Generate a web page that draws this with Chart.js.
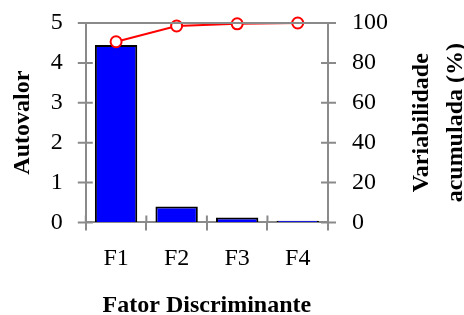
<!DOCTYPE html>
<html>
<head>
<meta charset="utf-8">
<script src="https://cdn.jsdelivr.net/npm/chart.js@4/dist/chart.umd.min.js"></script>
<style>
  html, body { margin: 0; padding: 0; background: #fff; }
  #wrap { width: 464px; height: 315px; }
</style>
</head>
<body>
<div id="wrap"><canvas id="chart"></canvas></div>
<script>
// values
const factors = ['F1', 'F2', 'F3', 'F4'];
const eigenvalues = [4.45, 0.40, 0.12, 0.04];
const cumulativeVar = [90.6, 98.5, 99.6, 100];

const axisGray = '#8a8a8a';
const serif = "'Liberation Serif', 'Times New Roman', serif";

// draws the top frame line, the crossing tick marks and the right title
const framePlugin = {
    id: 'frame',
    afterDatasetsDraw(chart) {
        const ctx = chart.ctx;
        const a = chart.chartArea;
        const tin = 7, tout = 8;
        ctx.save();
        ctx.strokeStyle = axisGray;
        ctx.lineWidth = 2;
        ctx.beginPath();
        ctx.moveTo(a.left - 1, a.top);
        ctx.lineTo(a.right + 1, a.top);
        const y = chart.scales.y;
        y.ticks.forEach((t, i) => {
            const p = y.getPixelForTick(i);
            ctx.moveTo(a.left - tout, p);
            ctx.lineTo(a.left + tin, p);
        });
        const y2 = chart.scales.y2;
        y2.ticks.forEach((t, i) => {
            const p = y2.getPixelForTick(i);
            ctx.moveTo(a.right + tout, p);
            ctx.lineTo(a.right - tin, p);
        });
        const x = chart.scales.x;
        const n = x.ticks.length;
        for (let i = 0; i <= n; i++) {
            const p = x.left + (x.right - x.left) * i / n;
            ctx.moveTo(p, a.bottom);
            ctx.lineTo(p, a.bottom - tin);
        }
        ctx.stroke();

        // right axis title, reading bottom to top
        ctx.fillStyle = '#000';
        ctx.font = 'bold 24px ' + serif;
        ctx.textAlign = 'center';
        ctx.textBaseline = 'middle';
        const cy = (a.top + a.bottom) / 2;
        ctx.translate(a.right + 111, cy);
        ctx.rotate(-Math.PI / 2);
        ctx.fillText('Variabilidade', 0, -17);
        ctx.fillText('acumulada (%)', 0, 17);
        ctx.restore();
    }
};

new Chart(document.getElementById('chart'), {
    data: {
        labels: factors,
        datasets: [
            {
                type: 'line',
                data: cumulativeVar,
                yAxisID: 'y2',
                borderColor: '#ff0000',
                borderWidth: 2,
                pointRadius: 5.5,
                pointBorderWidth: 2,
                pointBackgroundColor: '#ffffff',
                pointBorderColor: '#ff0000',
                clip: false,
                order: 0
            },
            {
                type: 'bar',
                data: eigenvalues,
                yAxisID: 'y',
                backgroundColor: '#0000ff',
                borderColor: '#000000',
                borderWidth: 2,
                categoryPercentage: 1,
                barPercentage: 0.7,
                order: 1
            }
        ]
    },
    options: {
        responsive: true,
        maintainAspectRatio: false,
        animation: false,
        layout: { padding: { left: 8, right: 75, top: 23, bottom: 0 } },
        plugins: { legend: { display: false }, tooltip: { enabled: false } },
        scales: {
            x: {
                grid: { drawOnChartArea: false, color: axisGray, lineWidth: 2, tickLength: 8, offset: true },
                border: { color: axisGray, width: 2 },
                ticks: { color: '#000', font: { family: serif, size: 24, lineHeight: 1.1 }, padding: 15 },
                title: { display: true, text: 'Fator Discriminante', color: '#000',
                         font: { family: serif, size: 24, weight: 'bold', lineHeight: 0.8 }, padding: { top: 9, bottom: 0 } }
            },
            y: {
                position: 'left',
                min: 0, max: 5,
                grid: { drawOnChartArea: false, color: 'rgba(0,0,0,0)', tickLength: 22 },
                border: { color: axisGray, width: 2 },
                ticks: { stepSize: 1, color: '#000', font: { family: serif, size: 24 }, padding: 1 },
                title: { display: true, text: 'Autovalor', color: '#000',
                         font: { family: serif, size: 24, weight: 'bold' }, padding: { top: 0, bottom: 13 } }
            },
            y2: {
                position: 'right',
                min: 0, max: 100,
                grid: { drawOnChartArea: false, color: 'rgba(0,0,0,0)', tickLength: 23 },
                border: { color: axisGray, width: 2 },
                ticks: { stepSize: 20, color: '#000', font: { family: serif, size: 24 }, padding: 1 }
            }
        }
    },
    plugins: [framePlugin]
});
</script>
</body>
</html>
